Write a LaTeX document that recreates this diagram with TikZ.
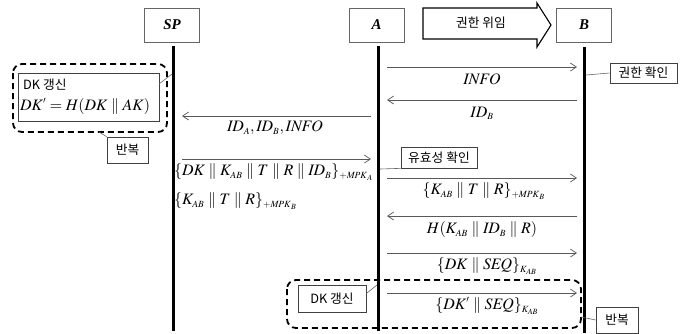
\documentclass[tikz,border=0pt]{standalone}
\usepackage{mathptmx}
\usepackage[no-math]{fontspec}
\setmainfont{Liberation Serif}
\newfontfamily\krfont{Noto Sans CJK KR}
\usetikzlibrary{arrows.meta}
\DeclareMathSizes{16}{16}{9.5}{8}
\newcommand\catb{\mathrel{\|}}
\begin{document}
\begin{tikzpicture}[x=1bp,y=-1bp,
 lifeline/.style={line width=3bp},
 msg/.style={draw=black!65, line width=0.7bp, -{Straight Barb[length=6bp,width=8bp,line width=0.7bp]}},
 actor/.style={draw=black!60, line width=0.8bp, minimum width=55bp, minimum height=34bp, inner sep=0pt, font=\fontsize{15}{18}\selectfont\bfseries\itshape},
 note/.style={draw=black!75, line width=0.7bp, inner sep=0pt, font=\krfont\fontsize{12.8}{15}\selectfont},
 lbl/.style={inner sep=0pt, font=\fontsize{16}{19}\selectfont},
 leader/.style={draw=black!60, line width=0.6bp},
 loopbox/.style={draw, line width=1.8bp, dash pattern=on 6bp off 4bp, rounded corners=9bp}]
\useasboundingbox (0,0) rectangle (688,333);
% actors
\node[actor] (sp) at (172,25) {SP};
\node[actor] (a) at (376.5,25) {A};
\node[actor] (b) at (584,25) {B};
% lifelines
\coordinate (spT) at (173,46); \coordinate (spB) at (173,331);
\coordinate (aT) at (378,46); \coordinate (aB) at (378,331);
\coordinate (bT) at (584,47); \coordinate (bB) at (584,333);
\draw[lifeline] (spT) -- (spB);
\draw[lifeline] (aT) -- (aB);
\draw[lifeline] (bT) -- (bB);
% delegation block arrow
\draw[line width=1.1bp] (423,8) -- (537,8) -- (537,3) -- (551,25) -- (537,47) -- (537,39) -- (423,39) -- cycle;
\node[inner sep=0pt, font=\krfont\fontsize{12.8}{15}\selectfont] (deleg) at (481,23) {권한 위임};
% messages A-B
\coordinate (m1a) at (387,67); \coordinate (m1b) at (577,67);
\draw[msg] (m1a) -- (m1b);
\node[lbl] (l1) at (482,79) {$\mathit{INFO}$};
\coordinate (m2a) at (387,100); \coordinate (m2b) at (577,100);
\draw[msg] (m2b) -- (m2a);
\node[lbl] (l2) at (482,113) {$\mathit{ID}_B$};
% messages SP-A
\coordinate (m3s) at (182,116); \coordinate (m3a) at (371,116);
\draw[msg] (m3a) -- (m3s);
\node[lbl] (l3) at (275,128) {$\mathit{ID}_A, \mathit{ID}_B, \mathit{INFO}$};
\coordinate (m4s) at (182,159); \coordinate (m4a) at (371,159);
\draw[msg] (m4s) -- (m4a);
\node[lbl, anchor=west] (l4) at (174,172) {$\{\mathit{DK}\catb K_{AB}\catb T\catb R\catb \mathit{ID}_B\}_{+\mathit{MPK}_A}$};
\node[lbl, anchor=west] (l5) at (174,201) {$\{K_{AB}\catb T\catb R\}_{+\mathit{MPK}_B}$};
% further A-B messages
\coordinate (m5a) at (387,178); \coordinate (m5b) at (577,178);
\draw[msg] (m5a) -- (m5b);
\node[lbl] (l6) at (484,191) {$\{K_{AB}\catb T\catb R\}_{+\mathit{MPK}_B}$};
\coordinate (m6a) at (387,216); \coordinate (m6b) at (577,216);
\draw[msg] (m6b) -- (m6a);
\node[lbl] (l7) at (482,230) {$H(K_{AB}\catb \mathit{ID}_B\catb R)$};
\coordinate (m7a) at (387,253); \coordinate (m7b) at (577,253);
\draw[msg] (m7a) -- (m7b);
\node[lbl] (l8) at (487,266) {$\{\mathit{DK}\catb \mathit{SEQ}\}_{K_{AB}}$};
\coordinate (m8a) at (387,293); \coordinate (m8b) at (577,293);
\draw[msg] (m8a) -- (m8b);
\node[lbl] (l9) at (487,306) {$\{\mathit{DK}'\catb \mathit{SEQ}\}_{K_{AB}}$};
% notes
\node[note, minimum width=67bp, minimum height=20bp] (chk) at (643.5,73) {권한 확인};
\draw[leader] (586,75) -- (chk.west);
\node[note, minimum width=76bp, minimum height=21bp] (valid) at (439,157.5) {유효성 확인};
\draw[leader] (380,169) -- (valid.south west);
% top-left loop
\draw[loopbox] (13,64) rectangle (167,132);
\node[draw=black!75, line width=0.7bp, minimum width=141bp, minimum height=48bp, inner sep=0pt] (upd1) at (88.5,97) {};
\node[anchor=west, inner sep=0pt, font=\krfont\fontsize{12.8}{15}\selectfont] (upd1t) at (23,85) {DK 갱신};
\node[lbl, anchor=west] (upd1f) at (20,106) {$\mathit{DK}' = H(\mathit{DK}\catb \mathit{AK})$};
\draw[leader] (159,84) -- (172,74);
\node[note, minimum width=41bp, minimum height=26bp] (rep1) at (127.5,150) {반복};
\draw[leader] (99,132) -- (rep1.north west);
% bottom loop
\draw[loopbox] (287,280) rectangle (581,328);
\node[note, minimum width=68bp, minimum height=27bp] (upd2) at (332,298.5) {DK 갱신};
\draw[leader] (upd2.east) ++(0,-5) -- (377,285);
\node[note, minimum width=42bp, minimum height=26bp] (rep2) at (617,320) {반복};
\draw[leader] (581,317) -- (rep2.west);
\end{tikzpicture}
\end{document}
